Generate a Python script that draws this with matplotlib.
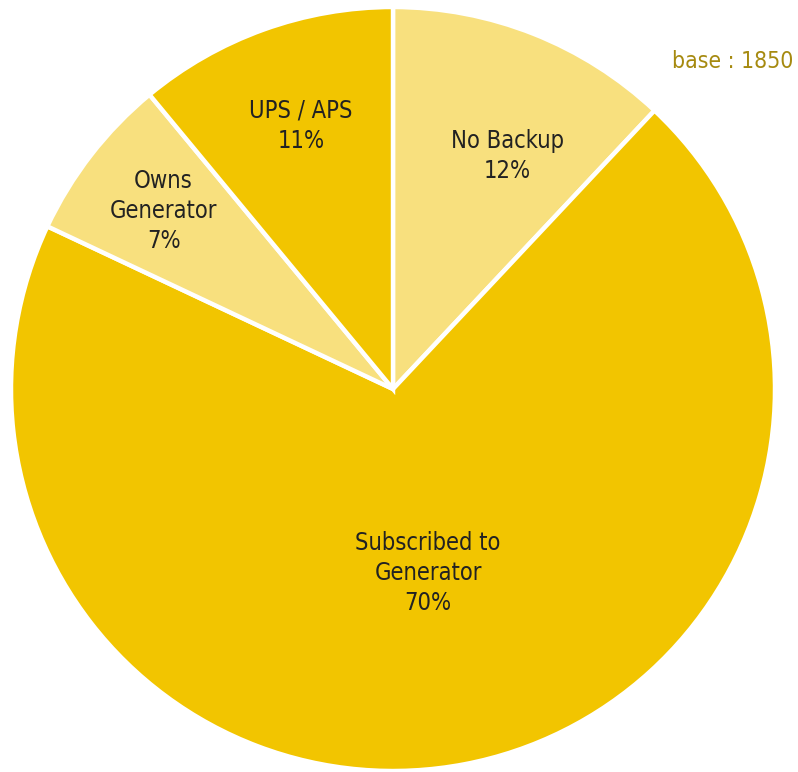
import numpy as np
import matplotlib.pyplot as plt

plt.rcParams['font.family'] = ['DejaVu Sans']
plt.rcParams['font.stretch'] = 'condensed'

# backup power share, clockwise from 12 o'clock
categories = ["No Backup", "Subscribed to\nGenerator", "Owns\nGenerator", "UPS / APS"]
shares = [12, 70, 7, 11]
base_n = 1850

DARK = "#F2C500"
LIGHT = "#F8E07E"
colors = [LIGHT, DARK, LIGHT, DARK]
# label placement: fraction of radius and angular nudge (deg) from wedge middle
label_r = [0.68, 0.49, 0.76, 0.73]
label_nudge = [-4.5, 0, 0, -0.5]

fig = plt.figure(figsize=(7.98, 7.72), dpi=100)
W, H = 798, 772
cx, cy, R = 393, 389, 382
ax = fig.add_axes([(cx - R) / W, (H - cy - R) / H, 2 * R / W, 2 * R / H])

wedges, _ = ax.pie(shares, colors=colors, startangle=90, counterclock=False,
                   radius=1, wedgeprops=dict(edgecolor="white", linewidth=3.2))
ax.set_xlim(-1, 1)
ax.set_ylim(-1, 1)
ax.set_aspect("equal")
ax.axis("off")

for w, name, val, r, nd in zip(wedges, categories, shares, label_r, label_nudge):
    mid = np.deg2rad((w.theta1 + w.theta2) / 2 + nd)
    ax.text(r * np.cos(mid), r * np.sin(mid), f"{name}\n{val}%",
            ha="center", va="center", fontsize=17, color="#222222",
            linespacing=1.3)

fig.text(793 / W, 1 - 62 / H, f"base : {base_n}", ha="right", va="center",
         fontsize=16.5, color="#A68A10")

fig.savefig("out.png", dpi=100, facecolor="white")
